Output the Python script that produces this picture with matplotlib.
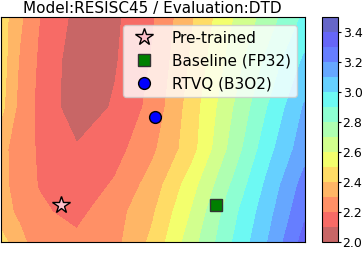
import numpy as np
import matplotlib
matplotlib.use("Agg")
import matplotlib.pyplot as plt
from matplotlib.colors import ListedColormap

# loss landscape grid (rows bottom -> top)
xs = [-0.39, -0.27, -0.15, 0.10, 0.345, 0.59, 0.835, 1.08, 1.325, 1.57]
ys = [-0.25, -0.05, 0.13, 0.37, 0.65, 0.95, 1.25]
loss = [
    [2.44, 2.33, 2.25, 2.22, 2.27, 2.425, 2.65, 2.878, 3.093, 3.34],
    [2.34, 2.28, 2.215, 2.175, 2.257, 2.387, 2.60, 2.844, 3.056, 3.28],
    [2.33, 2.256, 2.197, 2.14, 2.212, 2.345, 2.55, 2.788, 3.018, 3.24],
    [2.33, 2.25, 2.19, 2.11, 2.16, 2.281, 2.453, 2.708, 2.956, 3.16],
    [2.43, 2.27, 2.18, 2.04, 2.111, 2.232, 2.441, 2.669, 2.893, 3.11],
    [2.45, 2.29, 2.19, 2.04, 2.09, 2.21, 2.41, 2.62, 2.82, 3.02],
    [2.45, 2.32, 2.206, 2.07, 2.08, 2.19, 2.383, 2.576, 2.739, 2.92],
]

# model points
pre_xy = (0.0, 0.0)
base_xy = (1.0, 0.0)
rtvq_xy = (0.605, 0.585)

levels = np.arange(2.0, 3.51, 0.1)
cbar_ticks = [2.0, 2.2, 2.4, 2.6, 2.8, 3.0, 3.2, 3.4]

# jet_r at alpha 0.6 over white, baked in so band edges show no seams
jet = plt.get_cmap('jet_r')(np.linspace(0, 1, 256))
jet[:, :3] = 0.6 * jet[:, :3] + 0.4
cmap = ListedColormap(jet)

fig = plt.figure(figsize=(3.63, 2.61), dpi=100)
ax = fig.add_axes([1/363, 19/261, 303.5/363, 225/261])
cax = fig.add_axes([322/363, 19/261, 16/363, 225/261])

X, Y = np.meshgrid(xs, ys)
cs = ax.contourf(X, Y, np.array(loss), levels=levels, cmap=cmap)

ax.plot(*pre_xy, marker='*', ls='none', ms=13, mfc='pink', mec='black', mew=1, label='Pre-trained')
ax.plot(*base_xy, marker='s', ls='none', ms=8.5, mfc='green', mec='#333333', mew=1, label='Baseline (FP32)')
ax.plot(*rtvq_xy, marker='o', ls='none', ms=8.5, mfc='blue', mec='black', mew=1, label='RTVQ (B3O2)')

ax.set_xticks([]); ax.set_yticks([])
ax.set_title('Model:RESISC45 / Evaluation:DTD', fontsize=11, pad=3)
ax.legend(loc='upper right', fontsize=11)

cb = fig.colorbar(cs, cax=cax, ticks=cbar_ticks)
cb.ax.set_yticklabels(['%.1f' % t for t in cbar_ticks])
cb.ax.tick_params(labelsize=9, length=2.5, pad=0.8)

plt.savefig('out.png', dpi=100)
